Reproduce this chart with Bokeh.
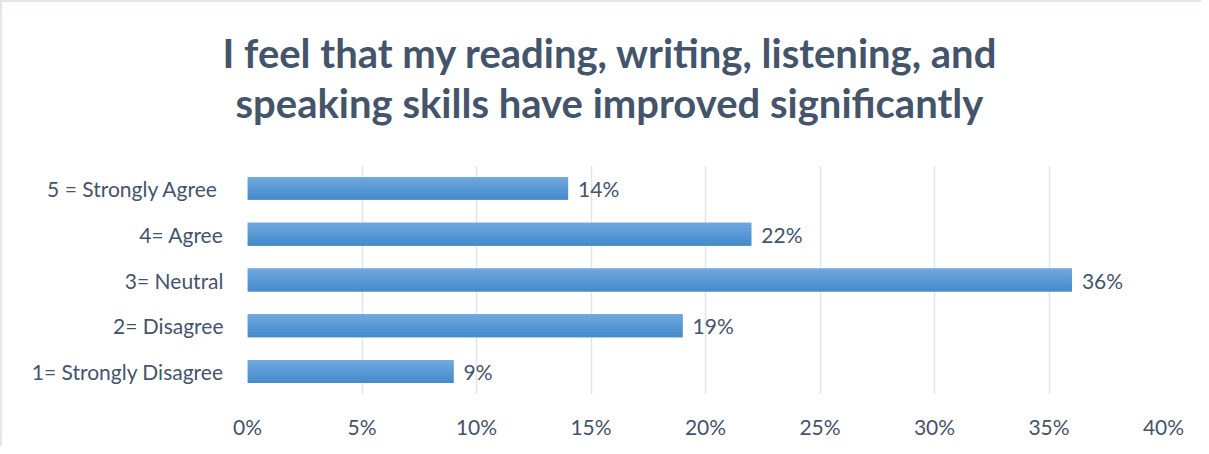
from bokeh.plotting import figure
from bokeh.models import ColumnDataSource, FactorRange, Range1d, NumeralTickFormatter, FixedTicker, Title, LabelSet
from bokeh.core.properties import value
from bokeh.transform import dodge
from bokeh.embed import file_html
from bokeh.resources import INLINE

categories = ["1= Strongly Disagree", "2= Disagree", "3= Neutral", "4= Agree", "5 = Strongly Agree "]
shares = [0.09, 0.19, 0.36, 0.22, 0.14]
share_labels = ["9%", "19%", "36%", "22%", "14%"]
x_ticks = [0, 0.05, 0.10, 0.15, 0.20, 0.25, 0.30, 0.35, 0.40]

TEXT = "#44546A"
FONT = "Lato"

src = ColumnDataSource(dict(cat=categories, val=shares, lab=share_labels))

p = figure(width=1201, height=446, y_range=FactorRange(*categories), x_range=Range1d(0, 0.40),
           output_backend="svg", toolbar_location=None,
           min_border_left=245, min_border_right=40, min_border_top=163, min_border_bottom=54)
p.styles = {"border-left": "2px solid #E3E6EA", "border-top": "2px solid #E3E6EA"}
p.outline_line_color = None

bar_h = 0.5
# base bar
p.hbar(y="cat", right="val", left=0, height=bar_h, source=src, fill_color="#5B9AD6", line_color=None)
# gradient-like overlay via thin strips (top light -> bottom darker)
strip_colors = ["#70A7DD", "#6AA3DB", "#63A0D9", "#5C9BD7", "#5697D4", "#5093D1", "#4B8FCE", "#478BCB"]
n = len(strip_colors)
sh = bar_h / n
for i, c in enumerate(strip_colors):
    off = bar_h / 2 - sh * (i + 0.5)
    p.hbar(y=dodge("cat", off, range=p.y_range), right="val", left=0, height=sh,
           source=src, fill_color=c, line_color=None)

labels = LabelSet(x="val", y="cat", text="lab", source=src, x_offset=10, y_offset=0,
                  text_baseline="middle", text_font=value(FONT), text_font_size="21px", text_color=TEXT)
p.add_layout(labels)

t2 = Title(text="speaking skills have improved significantly", align="left", offset=-12,
           text_font=FONT, text_font_size="40px", text_font_style="bold", text_color=TEXT, standoff=78)
t1 = Title(text="I feel that my reading, writing, listening, and", align="left", offset=-25,
           text_font=FONT, text_font_size="40px", text_font_style="bold", text_color=TEXT, standoff=-78)
p.add_layout(t2, "above")
p.add_layout(t1, "above")

p.xaxis.ticker = FixedTicker(ticks=x_ticks)
p.xaxis.formatter = NumeralTickFormatter(format="0%")
p.xaxis.axis_line_color = None
p.xaxis.major_tick_line_color = None
p.xaxis.minor_tick_line_color = None
p.xaxis.major_label_standoff = 13
p.xaxis.major_label_text_font = FONT
p.xaxis.major_label_text_font_size = "21px"
p.xaxis.major_label_text_color = TEXT

p.yaxis.axis_line_color = None
p.yaxis.major_tick_line_color = None
p.yaxis.minor_tick_line_color = None
p.yaxis.major_label_standoff = 18
p.yaxis.major_label_text_font = FONT
p.yaxis.major_label_text_font_size = "21px"
p.yaxis.major_label_text_color = TEXT

p.ygrid.grid_line_color = None
p.xgrid.grid_line_color = "#E1E4E9"
p.xgrid.grid_line_width = 1.5
p.y_range.range_padding = 0
p.y_range.group_padding = 0

open("out.html", "w").write(file_html(p, INLINE))
